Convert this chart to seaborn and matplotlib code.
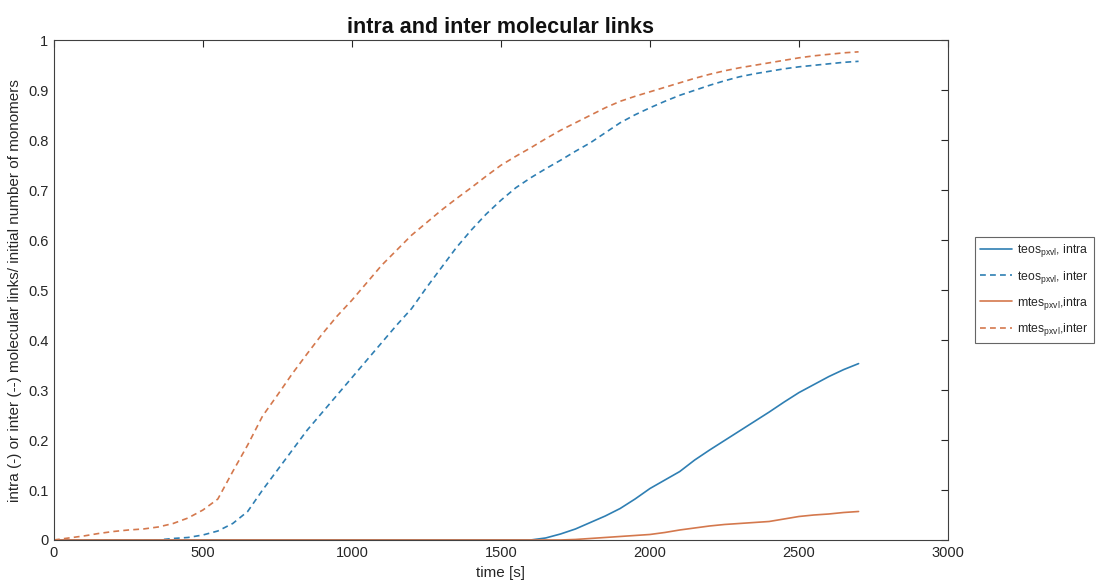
import numpy as np
import pandas as pd
import matplotlib
matplotlib.use("Agg")
import matplotlib.pyplot as plt
import seaborn as sns

# time axis [s]
time_s = list(range(0, 2701, 50))

# normalised link counts (per initial number of monomers)
teos_intra = [0, 0, 0, 0, 0, 0, 0, 0, 0, 0,
              0, 0, 0, 0, 0, 0, 0, 0, 0, 0,
              0, 0, 0, 0, 0, 0, 0, 0, 0, 0,
              0, 0, 0, 0.004, 0.012, 0.022, 0.035, 0.048, 0.063, 0.082,
              0.103, 0.120, 0.137, 0.160, 0.180, 0.199, 0.218, 0.237, 0.256, 0.276,
              0.295, 0.311, 0.327, 0.341, 0.353]
teos_inter = [0, 0, 0, 0, 0, 0, 0, 0, 0.003, 0.005,
              0.010, 0.018, 0.033, 0.057, 0.100, 0.140, 0.180, 0.220, 0.255, 0.290,
              0.325, 0.360, 0.395, 0.430, 0.463, 0.505, 0.545, 0.585, 0.620, 0.652,
              0.680, 0.705, 0.725, 0.743, 0.760, 0.778, 0.795, 0.815, 0.835, 0.851,
              0.865, 0.878, 0.890, 0.900, 0.910, 0.919, 0.927, 0.933, 0.938, 0.943,
              0.947, 0.950, 0.953, 0.956, 0.958]
mtes_intra = [0, 0, 0, 0, 0, 0, 0, 0, 0, 0,
              0, 0, 0, 0, 0, 0, 0, 0, 0, 0,
              0, 0, 0, 0, 0, 0, 0, 0, 0, 0,
              0, 0, 0, 0, 0, 0.001, 0.003, 0.005, 0.007, 0.009,
              0.011, 0.015, 0.020, 0.024, 0.028, 0.031, 0.033, 0.035, 0.037, 0.042,
              0.047, 0.050, 0.052, 0.055, 0.057]
mtes_inter = [0, 0.004, 0.008, 0.013, 0.017, 0.020, 0.022, 0.026, 0.033, 0.044,
              0.060, 0.082, 0.137, 0.190, 0.248, 0.290, 0.333, 0.373, 0.412, 0.448,
              0.480, 0.515, 0.550, 0.580, 0.610, 0.635, 0.660, 0.683, 0.705, 0.728,
              0.750, 0.768, 0.785, 0.803, 0.820, 0.835, 0.850, 0.865, 0.878, 0.888,
              0.897, 0.906, 0.915, 0.924, 0.932, 0.939, 0.945, 0.950, 0.955, 0.960,
              0.965, 0.969, 0.972, 0.975, 0.977]

labels = [r"teos$_{\rm pxvl}$, intra", r"teos$_{\rm pxvl}$, inter",
          r"mtes$_{\rm pxvl}$,intra", r"mtes$_{\rm pxvl}$,inter"]

BLUE = "#2f7fb3"
ORANGE = "#d4784d"

sns.set_theme(style="white")
plt.rcParams["font.family"] = ["Liberation Sans", "DejaVu Sans"]
plt.rcParams["mathtext.fontset"] = "custom"
plt.rcParams["mathtext.rm"] = "Liberation Sans"
plt.rcParams["mathtext.it"] = "Liberation Sans:italic"
plt.rcParams["mathtext.bf"] = "Liberation Sans:bold"

fig = plt.figure(figsize=(11.01, 5.83), dpi=100)
ax = fig.add_axes([0.049, 0.0738, 0.812, 0.857])

series = [(teos_intra, BLUE, "-"), (teos_inter, BLUE, "--"),
          (mtes_intra, ORANGE, "-"), (mtes_inter, ORANGE, "--")]
for (vals, col, ls), lab in zip(series, labels):
    df = pd.DataFrame({"t": time_s, "v": vals})
    line_kw = dict(color=col, linewidth=1.2, label=lab)
    if ls == "--":
        line_kw["dashes"] = False
        sns.lineplot(data=df, x="t", y="v", ax=ax, linestyle=(0, (3.5, 2.5)), **line_kw)
    else:
        sns.lineplot(data=df, x="t", y="v", ax=ax, linestyle="-", **line_kw)

ax.set_xlim(0, 3000)
ax.set_ylim(0, 1)
ax.set_xticks([0, 500, 1000, 1500, 2000, 2500, 3000])
ax.set_yticks(np.round(np.arange(0, 1.01, 0.1), 1))
ax.set_yticklabels(["0", "0.1", "0.2", "0.3", "0.4", "0.5", "0.6", "0.7", "0.8", "0.9", "1"])
ax.tick_params(direction="in", top=True, right=True, length=5, width=0.8,
               colors="#262626", labelsize=10.5, pad=4)
for sp in ax.spines.values():
    sp.set_color("#404040")
    sp.set_linewidth(0.8)

ax.set_xlabel("time [s]", fontsize=11, labelpad=5, color="#262626")
ax.set_ylabel("intra (-) or inter (--) molecular links/ initial number of monomers",
              fontsize=11, labelpad=4, color="#262626")
ax.set_title("intra and inter molecular links", fontsize=15.5, fontweight="bold",
             pad=5, color="#111111")

leg = ax.legend(loc="center left", bbox_to_anchor=(1.03, 0.5), fontsize=8.8,
                frameon=True, fancybox=False, edgecolor="#404040",
                handlelength=2.6, handletextpad=0.4, borderpad=0.45,
                borderaxespad=0, labelspacing=0.75)
leg.get_frame().set_linewidth(0.8)

fig.savefig("out.png", dpi=100)
